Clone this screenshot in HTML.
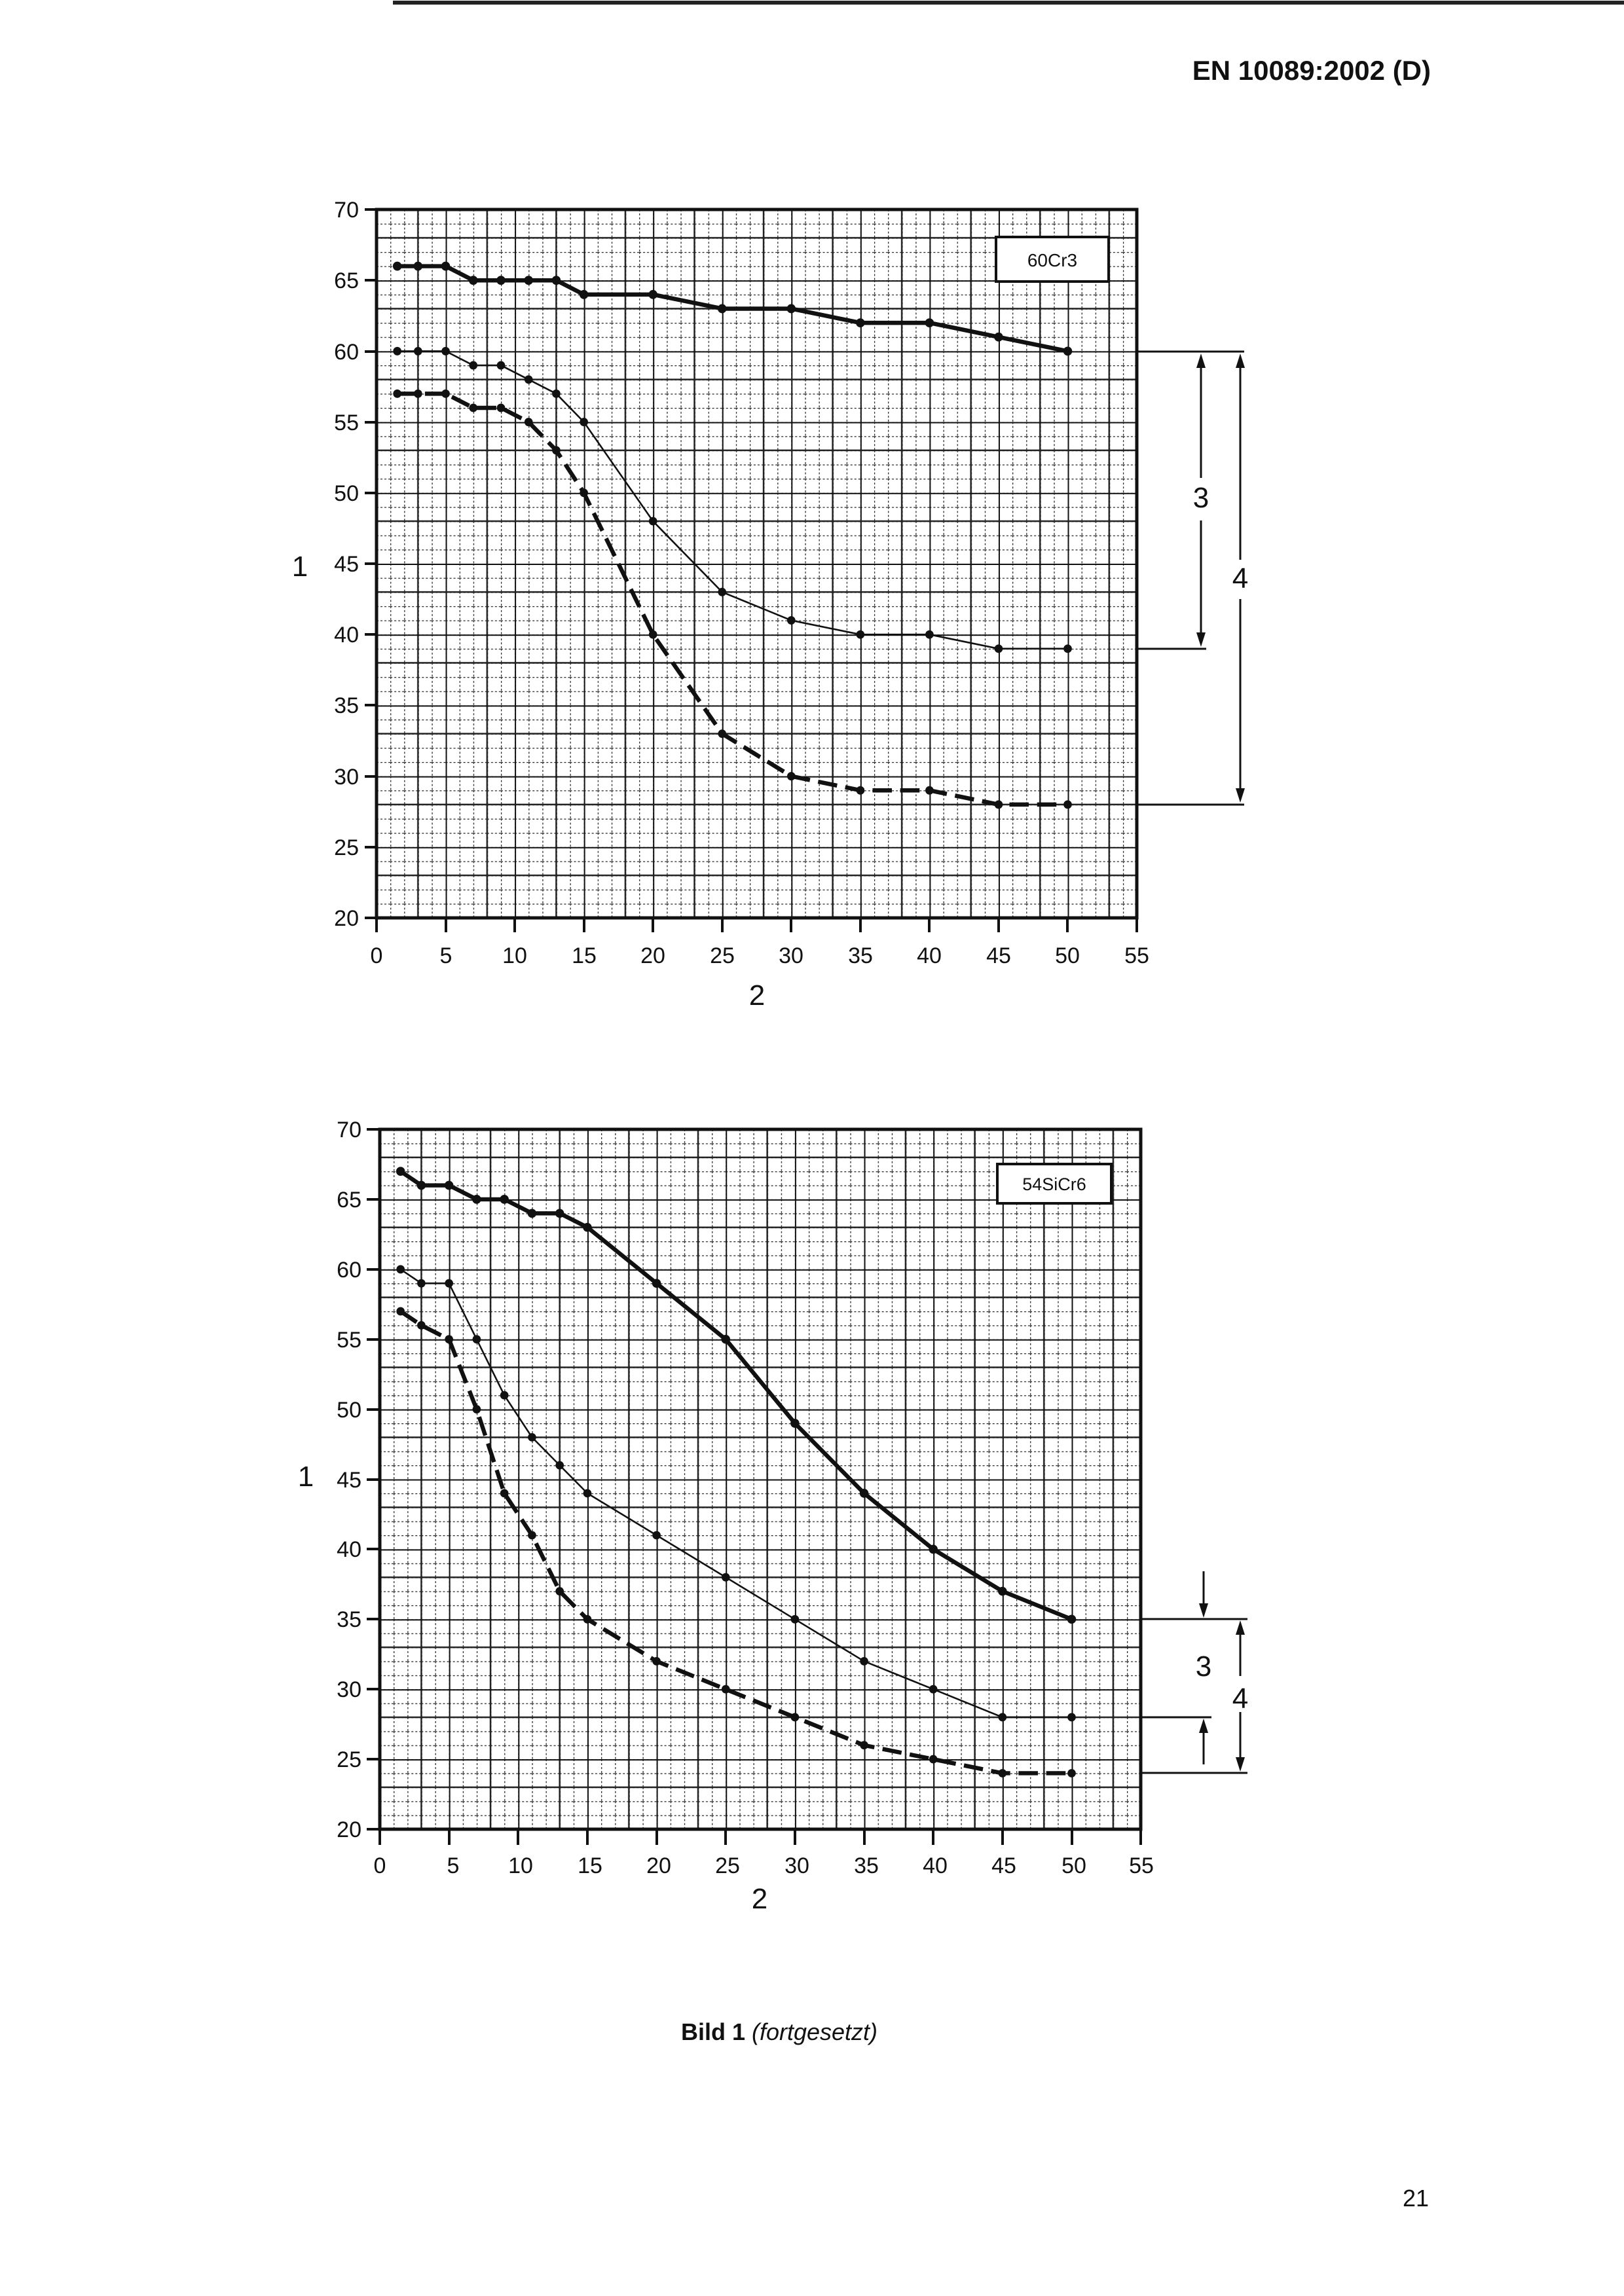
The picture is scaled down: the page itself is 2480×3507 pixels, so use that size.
<!DOCTYPE html>
<html><head><meta charset="utf-8"><style>
html,body{margin:0;padding:0;background:#fff;}
svg{display:block;}
text{font-family:"Liberation Sans",Arial,sans-serif;fill:#111;}
</style></head><body>
<svg width="2480" height="3507" viewBox="0 0 2480 3507" xmlns="http://www.w3.org/2000/svg">
<defs>
 <pattern id="m1" patternUnits="userSpaceOnUse" x="575" y="320" width="21.11" height="21.64">
  <line x1="0" y1="0" x2="0" y2="21.64" stroke="#222" stroke-width="2.5" stroke-dasharray="3,3"/>
  <line x1="0" y1="0" x2="21.11" y2="0" stroke="#222" stroke-width="2.5" stroke-dasharray="3,3"/>
 </pattern>
 <pattern id="M1" patternUnits="userSpaceOnUse" x="575" y="320" width="105.55" height="108.2">
  <line x1="0" y1="0" x2="0" y2="108.2" stroke="#111" stroke-width="4"/>
  <line x1="63.3" y1="0" x2="63.3" y2="108.2" stroke="#222" stroke-width="2.5"/>
  <line x1="0" y1="0" x2="105.55" y2="0" stroke="#111" stroke-width="4"/>
  <line x1="0" y1="43.3" x2="105.55" y2="43.3" stroke="#222" stroke-width="2.5"/>
 </pattern>
 <pattern id="m2" patternUnits="userSpaceOnUse" x="580" y="1725" width="21.13" height="21.38">
  <line x1="0" y1="0" x2="0" y2="21.38" stroke="#222" stroke-width="2.5" stroke-dasharray="3,3"/>
  <line x1="0" y1="0" x2="21.13" y2="0" stroke="#222" stroke-width="2.5" stroke-dasharray="3,3"/>
 </pattern>
 <pattern id="M2" patternUnits="userSpaceOnUse" x="580" y="1725" width="105.65" height="106.9">
  <line x1="0" y1="0" x2="0" y2="106.9" stroke="#111" stroke-width="4"/>
  <line x1="63.4" y1="0" x2="63.4" y2="106.9" stroke="#222" stroke-width="2.5"/>
  <line x1="0" y1="0" x2="105.65" y2="0" stroke="#111" stroke-width="4"/>
  <line x1="0" y1="42.8" x2="105.65" y2="42.8" stroke="#222" stroke-width="2.5"/>
 </pattern>
</defs>

<line x1="600" y1="4" x2="2480" y2="4" stroke="#222" stroke-width="6"/>
<text x="2185" y="122" text-anchor="end" font-size="42" font-weight="bold">EN 10089:2002 (D)</text>

<!-- Chart 1 -->
<rect x="575" y="320" width="1161" height="1082" fill="url(#m1)"/>
<rect x="575" y="320" width="1161" height="1082" fill="url(#M1)"/>
<rect x="575" y="320" width="1161" height="1082" fill="none" stroke="#111" stroke-width="5"/>
<g stroke="#111" stroke-width="4">
 <line x1="557" y1="320" x2="575" y2="320"/><line x1="557" y1="428" x2="575" y2="428"/><line x1="557" y1="537" x2="575" y2="537"/><line x1="557" y1="645" x2="575" y2="645"/><line x1="557" y1="753" x2="575" y2="753"/><line x1="557" y1="861" x2="575" y2="861"/><line x1="557" y1="969" x2="575" y2="969"/><line x1="557" y1="1077" x2="575" y2="1077"/><line x1="557" y1="1186" x2="575" y2="1186"/><line x1="557" y1="1294" x2="575" y2="1294"/><line x1="557" y1="1402" x2="575" y2="1402"/>
 <line x1="575" y1="1402" x2="575" y2="1424"/><line x1="681" y1="1402" x2="681" y2="1424"/><line x1="786" y1="1402" x2="786" y2="1424"/><line x1="892" y1="1402" x2="892" y2="1424"/><line x1="997" y1="1402" x2="997" y2="1424"/><line x1="1103" y1="1402" x2="1103" y2="1424"/><line x1="1208" y1="1402" x2="1208" y2="1424"/><line x1="1314" y1="1402" x2="1314" y2="1424"/><line x1="1419" y1="1402" x2="1419" y2="1424"/><line x1="1525" y1="1402" x2="1525" y2="1424"/><line x1="1630" y1="1402" x2="1630" y2="1424"/><line x1="1736" y1="1402" x2="1736" y2="1424"/>
</g>
<g font-size="34" text-anchor="end">
 <text x="548" y="332">70</text><text x="548" y="440">65</text><text x="548" y="549">60</text><text x="548" y="657">55</text><text x="548" y="765">50</text><text x="548" y="873">45</text><text x="548" y="981">40</text><text x="548" y="1089">35</text><text x="548" y="1198">30</text><text x="548" y="1306">25</text><text x="548" y="1414">20</text>
</g>
<g font-size="34" text-anchor="middle">
 <text x="575" y="1471">0</text><text x="681" y="1471">5</text><text x="786" y="1471">10</text><text x="892" y="1471">15</text><text x="997" y="1471">20</text><text x="1103" y="1471">25</text><text x="1208" y="1471">30</text><text x="1314" y="1471">35</text><text x="1419" y="1471">40</text><text x="1525" y="1471">45</text><text x="1630" y="1471">50</text><text x="1736" y="1471">55</text>
</g>
<text x="458" y="880" font-size="44" text-anchor="middle">1</text>
<text x="1156" y="1535" font-size="44" text-anchor="middle">2</text>
<rect x="1521" y="362" width="172" height="68" fill="#fff" stroke="#111" stroke-width="4"/>
<text x="1607" y="407" font-size="28" text-anchor="middle">60Cr3</text>

<g transform="translate(575,1834.8) scale(21.11,-21.64)" fill="none" stroke="#111" stroke-linejoin="round">
 <polyline stroke-width="0.3" points="1.5,66 3,66 5,66 7,65 9,65 11,65 13,65 15,64 20,64 25,63 30,63 35,62 40,62 45,61 50,60"/>
 <polyline stroke-width="0.12" points="1.5,60 3,60 5,60 7,59 9,59 11,58 13,57 15,55 20,48 25,43 30,41 35,40 40,40 45,39 50,39"/>
 <polyline stroke-width="0.3" stroke-dasharray="1.4,0.6" points="1.5,57 3,57 5,57 7,56 9,56 11,55 13,53 15,50 20,40 25,33 30,30 35,29 40,29 45,28 50,28"/>
 <g fill="#111" stroke="none">
  <circle cx="1.5" cy="66" r="0.32"/><circle cx="3" cy="66" r="0.32"/><circle cx="5" cy="66" r="0.32"/><circle cx="7" cy="65" r="0.32"/><circle cx="9" cy="65" r="0.32"/><circle cx="11" cy="65" r="0.32"/><circle cx="13" cy="65" r="0.32"/><circle cx="15" cy="64" r="0.32"/><circle cx="20" cy="64" r="0.32"/><circle cx="25" cy="63" r="0.32"/><circle cx="30" cy="63" r="0.32"/><circle cx="35" cy="62" r="0.32"/><circle cx="40" cy="62" r="0.32"/><circle cx="45" cy="61" r="0.32"/><circle cx="50" cy="60" r="0.32"/>
  <circle cx="1.5" cy="60" r="0.3"/><circle cx="3" cy="60" r="0.3"/><circle cx="5" cy="60" r="0.3"/><circle cx="7" cy="59" r="0.3"/><circle cx="9" cy="59" r="0.3"/><circle cx="11" cy="58" r="0.3"/><circle cx="13" cy="57" r="0.3"/><circle cx="15" cy="55" r="0.3"/><circle cx="20" cy="48" r="0.3"/><circle cx="25" cy="43" r="0.3"/><circle cx="30" cy="41" r="0.3"/><circle cx="35" cy="40" r="0.3"/><circle cx="40" cy="40" r="0.3"/><circle cx="45" cy="39" r="0.3"/><circle cx="50" cy="39" r="0.3"/>
  <circle cx="1.5" cy="57" r="0.3"/><circle cx="3" cy="57" r="0.3"/><circle cx="5" cy="57" r="0.3"/><circle cx="7" cy="56" r="0.3"/><circle cx="9" cy="56" r="0.3"/><circle cx="11" cy="55" r="0.3"/><circle cx="13" cy="53" r="0.3"/><circle cx="15" cy="50" r="0.3"/><circle cx="20" cy="40" r="0.3"/><circle cx="25" cy="33" r="0.3"/><circle cx="30" cy="30" r="0.3"/><circle cx="35" cy="29" r="0.3"/><circle cx="40" cy="29" r="0.3"/><circle cx="45" cy="28" r="0.3"/><circle cx="50" cy="28" r="0.3"/>
 </g>
</g>
<g stroke="#111" stroke-width="3" fill="#111">
 <line x1="1736" y1="537" x2="1900" y2="537"/>
 <line x1="1736" y1="991" x2="1842" y2="991"/>
 <line x1="1736" y1="1229" x2="1900" y2="1229"/>
 <line x1="1834" y1="545" x2="1834" y2="730"/><line x1="1834" y1="795" x2="1834" y2="983"/>
 <polygon points="1834,540 1827,562 1841,562" stroke="none"/><polygon points="1834,988 1827,966 1841,966" stroke="none"/>
 <line x1="1894" y1="545" x2="1894" y2="855"/><line x1="1894" y1="915" x2="1894" y2="1221"/>
 <polygon points="1894,540 1887,562 1901,562" stroke="none"/><polygon points="1894,1226 1887,1204 1901,1204" stroke="none"/>
</g>
<text x="1834" y="775" font-size="44" text-anchor="middle">3</text>
<text x="1894" y="898" font-size="44" text-anchor="middle">4</text>

<!-- Chart 2 -->
<rect x="580" y="1725" width="1162" height="1069" fill="url(#m2)"/>
<rect x="580" y="1725" width="1162" height="1069" fill="url(#M2)"/>
<rect x="580" y="1725" width="1162" height="1069" fill="none" stroke="#111" stroke-width="5"/>
<g stroke="#111" stroke-width="4">
 <line x1="560" y1="1725" x2="580" y2="1725"/><line x1="560" y1="1832" x2="580" y2="1832"/><line x1="560" y1="1939" x2="580" y2="1939"/><line x1="560" y1="2046" x2="580" y2="2046"/><line x1="560" y1="2153" x2="580" y2="2153"/><line x1="560" y1="2260" x2="580" y2="2260"/><line x1="560" y1="2366" x2="580" y2="2366"/><line x1="560" y1="2473" x2="580" y2="2473"/><line x1="560" y1="2580" x2="580" y2="2580"/><line x1="560" y1="2687" x2="580" y2="2687"/><line x1="560" y1="2794" x2="580" y2="2794"/>
 <line x1="580" y1="2794" x2="580" y2="2818"/><line x1="686" y1="2794" x2="686" y2="2818"/><line x1="791" y1="2794" x2="791" y2="2818"/><line x1="897" y1="2794" x2="897" y2="2818"/><line x1="1003" y1="2794" x2="1003" y2="2818"/><line x1="1108" y1="2794" x2="1108" y2="2818"/><line x1="1214" y1="2794" x2="1214" y2="2818"/><line x1="1320" y1="2794" x2="1320" y2="2818"/><line x1="1425" y1="2794" x2="1425" y2="2818"/><line x1="1531" y1="2794" x2="1531" y2="2818"/><line x1="1637" y1="2794" x2="1637" y2="2818"/><line x1="1742" y1="2794" x2="1742" y2="2818"/>
</g>
<g font-size="34" text-anchor="end">
 <text x="552" y="1737">70</text><text x="552" y="1844">65</text><text x="552" y="1951">60</text><text x="552" y="2058">55</text><text x="552" y="2165">50</text><text x="552" y="2272">45</text><text x="552" y="2378">40</text><text x="552" y="2485">35</text><text x="552" y="2592">30</text><text x="552" y="2699">25</text><text x="552" y="2806">20</text>
</g>
<g font-size="34" text-anchor="middle">
 <text x="580" y="2861">0</text><text x="692" y="2861">5</text><text x="795" y="2861">10</text><text x="901" y="2861">15</text><text x="1006" y="2861">20</text><text x="1111" y="2861">25</text><text x="1217" y="2861">30</text><text x="1323" y="2861">35</text><text x="1428" y="2861">40</text><text x="1533" y="2861">45</text><text x="1640" y="2861">50</text><text x="1743" y="2861">55</text>
</g>
<text x="467" y="2270" font-size="44" text-anchor="middle">1</text>
<text x="1160" y="2915" font-size="44" text-anchor="middle">2</text>
<rect x="1523" y="1778" width="174" height="60" fill="#fff" stroke="#111" stroke-width="4"/>
<text x="1610" y="1818" font-size="27" text-anchor="middle">54SiCr6</text>

<g transform="translate(580,3221.6) scale(21.13,-21.38)" fill="none" stroke="#111" stroke-linejoin="round">
 <polyline stroke-width="0.3" points="1.5,67 3,66 5,66 7,65 9,65 11,64 13,64 15,63 20,59 25,55 30,49 35,44 40,40 45,37 50,35"/>
 <polyline stroke-width="0.12" points="1.5,60 3,59 5,59 7,55 9,51 11,48 13,46 15,44 20,41 25,38 30,35 35,32 40,30 45,28 50,28"/>
 <polyline stroke-width="0.3" stroke-dasharray="1.4,0.6" points="1.5,57 3,56 5,55 7,50 9,44 11,41 13,37 15,35 20,32 25,30 30,28 35,26 40,25 45,24 50,24"/>
 <g fill="#111" stroke="none">
  <circle cx="1.5" cy="67" r="0.32"/><circle cx="3" cy="66" r="0.32"/><circle cx="5" cy="66" r="0.32"/><circle cx="7" cy="65" r="0.32"/><circle cx="9" cy="65" r="0.32"/><circle cx="11" cy="64" r="0.32"/><circle cx="13" cy="64" r="0.32"/><circle cx="15" cy="63" r="0.32"/><circle cx="20" cy="59" r="0.32"/><circle cx="25" cy="55" r="0.32"/><circle cx="30" cy="49" r="0.32"/><circle cx="35" cy="44" r="0.32"/><circle cx="40" cy="40" r="0.32"/><circle cx="45" cy="37" r="0.32"/><circle cx="50" cy="35" r="0.32"/>
  <circle cx="1.5" cy="60" r="0.3"/><circle cx="3" cy="59" r="0.3"/><circle cx="5" cy="59" r="0.3"/><circle cx="7" cy="55" r="0.3"/><circle cx="9" cy="51" r="0.3"/><circle cx="11" cy="48" r="0.3"/><circle cx="13" cy="46" r="0.3"/><circle cx="15" cy="44" r="0.3"/><circle cx="20" cy="41" r="0.3"/><circle cx="25" cy="38" r="0.3"/><circle cx="30" cy="35" r="0.3"/><circle cx="35" cy="32" r="0.3"/><circle cx="40" cy="30" r="0.3"/><circle cx="45" cy="28" r="0.3"/><circle cx="50" cy="28" r="0.3"/>
  <circle cx="1.5" cy="57" r="0.3"/><circle cx="3" cy="56" r="0.3"/><circle cx="5" cy="55" r="0.3"/><circle cx="7" cy="50" r="0.3"/><circle cx="9" cy="44" r="0.3"/><circle cx="11" cy="41" r="0.3"/><circle cx="13" cy="37" r="0.3"/><circle cx="15" cy="35" r="0.3"/><circle cx="20" cy="32" r="0.3"/><circle cx="25" cy="30" r="0.3"/><circle cx="30" cy="28" r="0.3"/><circle cx="35" cy="26" r="0.3"/><circle cx="40" cy="25" r="0.3"/><circle cx="45" cy="24" r="0.3"/><circle cx="50" cy="24" r="0.3"/>
 </g>
</g>
<g stroke="#111" stroke-width="3" fill="#111">
 <line x1="1742" y1="2473" x2="1905" y2="2473"/>
 <line x1="1742" y1="2623" x2="1850" y2="2623"/>
 <line x1="1742" y1="2708" x2="1905" y2="2708"/>
 <line x1="1838" y1="2400" x2="1838" y2="2465"/><polygon points="1838,2471 1831,2449 1845,2449" stroke="none"/>
 <line x1="1838" y1="2631" x2="1838" y2="2695"/><polygon points="1838,2625 1831,2647 1845,2647" stroke="none"/>
 <line x1="1894" y1="2481" x2="1894" y2="2560"/><line x1="1894" y1="2615" x2="1894" y2="2700"/>
 <polygon points="1894,2475 1887,2497 1901,2497" stroke="none"/><polygon points="1894,2706 1887,2684 1901,2684" stroke="none"/>
</g>
<text x="1838" y="2560" font-size="44" text-anchor="middle">3</text>
<text x="1894" y="2609" font-size="44" text-anchor="middle">4</text>

<text x="1190" y="3116" font-size="36" text-anchor="middle"><tspan font-weight="bold">Bild 1</tspan> <tspan font-style="italic">(fortgesetzt)</tspan></text>
<text x="2162" y="3370" font-size="36" text-anchor="middle">21</text>
</svg>
</body></html>
